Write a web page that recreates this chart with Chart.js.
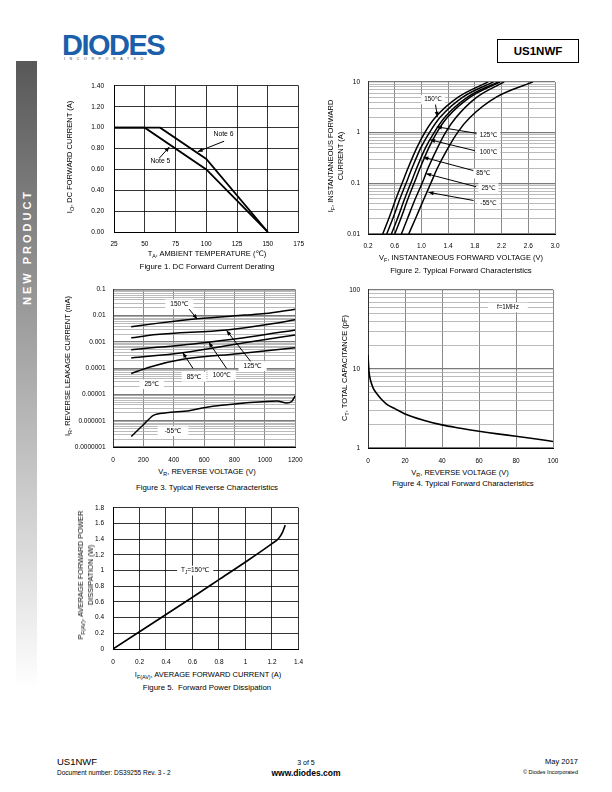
<!DOCTYPE html>
<html>
<head>
<meta charset="utf-8">
<script src="https://cdn.jsdelivr.net/npm/chart.js@4.4.1/dist/chart.umd.min.js"></script>
<style>
  html, body { margin: 0; padding: 0; background: #fff; }
  body { width: 612px; height: 792px; position: relative; overflow: hidden;
         font-family: "Liberation Sans", Arial, "DejaVu Sans", sans-serif; color: #000; }
  .abs { position: absolute; white-space: nowrap; }
  canvas.fig { position: absolute; }
  .t { position: absolute; white-space: nowrap; transform: translate(-50%, -50%); font-size: 7.5px; line-height: 1; }
  .ty { position: absolute; white-space: nowrap; transform: translate(-50%, -50%) rotate(-90deg);
        font-size: 7.5px; text-align: center; line-height: 10px; }
  .cap { font-size: 7.8px; }
  sub { font-size: 0.72em; vertical-align: -0.3em; line-height: 0; }
</style>
</head>
<body>

<!-- page furniture -->
<div class="abs" style="left:16px;top:61px;width:21px;height:713px;background:linear-gradient(#585858, #ffffff 88%);"></div>
<div class="ty" style="left:26.5px;top:247px;color:#fff;font-weight:bold;font-size:11px;letter-spacing:3px;line-height:1;">NEW PRODUCT</div>

<div class="abs" style="left:62px;top:31px;font-size:29px;font-weight:bold;color:#1b5faa;letter-spacing:-1.5px;line-height:1;">DIODES</div>
<div class="abs" style="left:160px;top:51px;width:3px;height:3px;border-radius:2px;background:#1b5faa;"></div>
<div class="abs" style="left:64px;top:57px;font-size:3.6px;letter-spacing:4.6px;color:#333;">INCORPORATED</div>

<div class="abs" style="left:497px;top:39px;width:80px;height:22px;border:1px solid #000;font-weight:bold;font-size:11.5px;line-height:22px;text-align:center;">US1NWF</div>

<div class="abs" style="left:57px;top:757px;font-size:9.5px;line-height:1;">US1NWF</div>
<div class="abs" style="left:57px;top:770px;font-size:6.5px;line-height:1;">Document number: DS39255 Rev. 3 - 2</div>
<div class="t" style="left:306px;top:762px;font-size:7px;">3 of 5</div>
<div class="t" style="left:306px;top:772.5px;font-size:8.5px;font-weight:bold;">www.diodes.com</div>
<div class="abs" style="right:34px;top:758px;font-size:7.5px;line-height:1;">May 2017</div>
<div class="abs" style="right:34px;top:770px;font-size:5.5px;line-height:1;">© Diodes Incorporated</div>

<!-- chart canvases -->
<canvas class="fig" id="fig1"></canvas>
<canvas class="fig" id="fig2"></canvas>
<canvas class="fig" id="fig3"></canvas>
<canvas class="fig" id="fig4"></canvas>
<canvas class="fig" id="fig5"></canvas>

<!-- axis titles and captions -->
<div class="ty" style="left:70px;top:157px;">I<sub>O</sub>, DC FORWARD CURRENT (A)</div>
<div class="t" style="left:207px;top:254px;">T<sub>A</sub>, AMBIENT TEMPERATURE (℃)</div>
<div class="t cap" style="left:207px;top:267px;">Figure 1. DC Forward Current Derating</div>

<div class="ty" style="left:336px;top:156px;">I<sub>F</sub>, INSTANTANEOUS FORWARD<br>CURRENT (A)</div>
<div class="t" style="left:461px;top:258px;">V<sub>F</sub>, INSTANTANEOUS FORWARD VOLTAGE (V)</div>
<div class="t cap" style="left:461px;top:271px;">Figure 2. Typical Forward Characteristics</div>

<div class="ty" style="left:68px;top:366px;">I<sub>R</sub>, REVERSE LEAKAGE CURRENT (mA)</div>
<div class="t" style="left:207px;top:472px;">V<sub>R</sub>, REVERSE VOLTAGE (V)</div>
<div class="t cap" style="left:207px;top:488px;">Figure 3. Typical Reverse Characteristics</div>

<div class="ty" style="left:345px;top:368px;">C<sub>T</sub>, TOTAL CAPACITANCE (pF)</div>
<div class="t" style="left:460px;top:473px;">V<sub>R</sub>, REVERSE VOLTAGE (V)</div>
<div class="t cap" style="left:463px;top:484px;">Figure 4. Typical Forward Characteristics</div>

<div class="ty" style="left:86px;top:575px;">P<sub>F(AV)</sub>, AVERAGE FORWARD POWER<br>DISSIPATION (W)</div>
<div class="t" style="left:208px;top:675px;">I<sub>F(AV)</sub>, AVERAGE FORWARD CURRENT (A)</div>
<div class="t cap" style="left:207px;top:688px;">Figure 5.&nbsp; Forward Power Dissipation</div>

<script>
// ---- Figure 1: DC forward current derating
const fig1Temp5 = [25, 50, 100, 150];
const fig1Curr5 = [1.0, 1.0, 0.6, 0.0];
const fig1Temp6 = [25, 62.5, 100, 150];
const fig1Curr6 = [1.0, 1.0, 0.7, 0.0];
const fig1XTicks = [25, 50, 75, 100, 125, 150, 175];
const fig1YTicks = [0, 0.2, 0.4, 0.6, 0.8, 1.0, 1.2, 1.4];

// ---- Figure 2: typical forward characteristics (current vs voltage)
const fig2Current = [0.01, 0.02, 0.05, 0.1, 0.2, 0.5, 1, 2, 5, 10];
const fig2V150 = [0.42, 0.51, 0.62, 0.71, 0.80, 0.93, 1.05, 1.21, 1.55, 2.00];
const fig2V125 = [0.48, 0.57, 0.68, 0.77, 0.86, 0.99, 1.12, 1.28, 1.62, 2.08];
const fig2V100 = [0.55, 0.64, 0.75, 0.84, 0.93, 1.06, 1.19, 1.35, 1.69, 2.15];
const fig2V85  = [0.60, 0.69, 0.80, 0.89, 0.98, 1.11, 1.23, 1.39, 1.73, 2.18];
const fig2V25  = [0.70, 0.79, 0.91, 1.01, 1.10, 1.24, 1.36, 1.52, 1.83, 2.24];
const fig2Vm55 = [0.81, 0.91, 1.04, 1.14, 1.24, 1.40, 1.54, 1.73, 2.12, 2.67];
const fig2XTicks = [0.2, 0.6, 1.0, 1.4, 1.8, 2.2, 2.6, 3.0];
const fig2YDecades = [0.01, 0.1, 1, 10];

// ---- Figure 3: typical reverse characteristics
const fig3V150 = [120, 300, 555, 866, 1000, 1200];
const fig3I150 = [0.0038, 0.0052, 0.0076, 0.0105, 0.012, 0.0177];
const fig3V125 = [120, 287, 748, 1037, 1200];
const fig3I125 = [0.00143, 0.0019, 0.00286, 0.00482, 0.007];
const fig3V100 = [120, 630, 930, 1200];
const fig3I100 = [0.0005, 0.00098, 0.00164, 0.00286];
const fig3V85  = [120, 459, 866, 1200];
const fig3I85  = [0.000245, 0.00039, 0.00093, 0.00185];
const fig3V25  = [120, 244, 459, 823, 1200];
const fig3I25  = [0.000063, 0.000112, 0.000218, 0.000358, 0.0006];
const fig3Vm55 = [120, 202, 266, 352, 501, 609, 866, 1080, 1144, 1176, 1200];
const fig3Im55 = [2.5e-7, 7.2e-7, 1.6e-6, 2.0e-6, 2.4e-6, 3.2e-6, 4.7e-6, 5.7e-6, 4.7e-6, 5.4e-6, 8.9e-6];
const fig3XTicks = [0, 200, 400, 600, 800, 1000, 1200];
const fig3YDecades = [1e-7, 1e-6, 1e-5, 1e-4, 1e-3, 1e-2, 1e-1];

// ---- Figure 4: total capacitance
const fig4Voltage = [0, 0.5, 1, 2, 3, 5, 7, 10, 15, 20, 30, 40, 50, 60, 70, 80, 90, 100];
const fig4Cap = [15, 9.5, 7.8, 6.4, 5.6, 4.8, 4.2, 3.6, 3.1, 2.7, 2.25, 1.96, 1.78, 1.63, 1.51, 1.41, 1.31, 1.21];
const fig4XTicks = [0, 20, 40, 60, 80, 100];
const fig4YDecades = [1, 10, 100];

// ---- Figure 5: forward power dissipation
const fig5Current = [0, 0.2, 0.4, 0.6, 0.8, 1.0, 1.2, 1.25, 1.28, 1.3];
const fig5Power = [0, 0.22, 0.44, 0.66, 0.885, 1.11, 1.345, 1.41, 1.49, 1.58];
const fig5XTicks = [0, 0.2, 0.4, 0.6, 0.8, 1.0, 1.2, 1.4];
const fig5YTicks = [0, 0.2, 0.4, 0.6, 0.8, 1.0, 1.2, 1.4, 1.6, 1.8];

const FONT = '"Liberation Sans", Arial, "DejaVu Sans", sans-serif';
Chart.defaults.font.family = FONT;
Chart.defaults.font.size = 6.5;
Chart.defaults.color = '#000';

const pts = (xs, ys) => xs.map((x, i) => ({ x, y: ys[i] }));
const isDecade = v => Math.abs(Math.log10(v) - Math.round(Math.log10(v))) < 1e-6;

// 1..9 x 10^n between the listed decades
function logTicks(decades) {
  const out = [];
  for (let i = 0; i < decades.length - 1; i++) {
    for (let k = 1; k < 10; k++) out.push(+(decades[i] * k).toPrecision(3));
  }
  out.push(decades[decades.length - 1]);
  return out;
}

function line(data, width, straight) {
  return { data, showLine: true, pointRadius: 0, borderColor: '#000', borderWidth: width || 1.5,
           tension: 0, cubicInterpolationMode: straight ? 'default' : 'monotone', fill: false };
}

function drawArrow(ctx, x1, y1, x2, y2) {
  ctx.beginPath(); ctx.moveTo(x1, y1); ctx.lineTo(x2, y2); ctx.stroke();
  const a = Math.atan2(y2 - y1, x2 - x1), L = 5, W = 2;
  ctx.beginPath();
  ctx.moveTo(x2, y2);
  ctx.lineTo(x2 - L * Math.cos(a) + W * Math.sin(a), y2 - L * Math.sin(a) - W * Math.cos(a));
  ctx.lineTo(x2 - L * Math.cos(a) - W * Math.sin(a), y2 - L * Math.sin(a) + W * Math.cos(a));
  ctx.closePath(); ctx.fill();
}

// labels and arrows, placed in data units
function notes(items, size) {
  return {
    id: 'notes',
    afterDatasetsDraw(chart) {
      const { ctx, scales: { x, y } } = chart;
      ctx.save();
      ctx.strokeStyle = '#000'; ctx.fillStyle = '#000'; ctx.lineWidth = 1;
      for (const it of items) {
        if (!it.arrow) continue;
        const [a, b, c, d] = it.arrow;
        drawArrow(ctx, x.getPixelForValue(a), y.getPixelForValue(b), x.getPixelForValue(c), y.getPixelForValue(d));
      }
      ctx.textBaseline = 'middle';
      for (const it of items) {
        if (!it.text) continue;
        const parts = it.text;
        let w = 0;
        const sizes = parts.map(p => {
          const s = p.sub ? size * 0.7 : size;
          ctx.font = s + 'px ' + FONT;
          const m = ctx.measureText(p.t).width;
          w += m;
          return { s, m };
        });
        const cx = x.getPixelForValue(it.x), cy = y.getPixelForValue(it.y);
        if (it.box) {
          ctx.fillStyle = '#fff';
          ctx.fillRect(cx - w / 2 - it.box, cy - size * 0.75, w + 2 * it.box, size * 1.5);
        }
        ctx.fillStyle = '#000';
        let px = cx - w / 2;
        parts.forEach((p, i) => {
          ctx.font = sizes[i].s + 'px ' + FONT;
          ctx.fillText(p.t, px, cy + (p.sub ? size * 0.3 : 0));
          px += sizes[i].m;
        });
      }
      ctx.restore();
    }
  };
}

// places the canvas (box) and forces the plot area (plot), both in page pixels
function makeChart(id, box, plot, xScale, yScale, datasets, plugins) {
  const cv = document.getElementById(id);
  cv.width = box.r - box.l; cv.height = box.b - box.t;
  cv.style.left = box.l + 'px'; cv.style.top = box.t + 'px';
  const yW = plot.l - box.l, xH = box.b - plot.b;
  xScale.afterFit = s => { s.height = xH; };
  yScale.afterFit = s => { s.width = yW; };
  return new Chart(cv, {
    type: 'scatter',
    data: { datasets },
    options: {
      responsive: false, animation: false, events: [],
      layout: { padding: { left: 0, top: plot.t - box.t, right: box.r - plot.r, bottom: 0 } },
      plugins: { legend: { display: false }, tooltip: { enabled: false } },
      scales: { x: xScale, y: yScale }
    },
    plugins: plugins || []
  });
}

function linAxis(min, max, ticks, fmt, pad, grid) {
  return {
    type: 'linear', min, max,
    afterBuildTicks: s => { s.ticks = ticks.map(v => ({ value: v })); },
    ticks: { autoSkip: false, maxRotation: 0, padding: pad, callback: fmt },
    grid: Object.assign({ drawTicks: false }, grid),
    border: { color: '#000', width: 1 }
  };
}

function logAxis(decades, fmt, pad) {
  const vals = logTicks(decades);
  return {
    type: 'logarithmic', min: decades[0], max: decades[decades.length - 1],
    afterBuildTicks: s => { s.ticks = vals.map(v => ({ value: v })); },
    ticks: { autoSkip: false, maxRotation: 0, padding: pad,
             callback: v => isDecade(v) ? fmt(v) : '' },
    grid: {
      drawTicks: false,
      color: c => (c.tick && isDecade(c.tick.value)) ? '#7a7a7a' : '#aaaaaa',
      lineWidth: c => (c.tick && isDecade(c.tick.value)) ? 1.3 : 0.8
    },
    border: { color: '#333', width: 1 }
  };
}

const decFmt = v => {
  const e = Math.round(Math.log10(v));
  return e >= 0 ? String(Math.round(v)) : v.toFixed(-e);
};
const grayGrid = { color: '#8a8a8a', lineWidth: 1 };
const blackGrid = { color: '#000', lineWidth: 0.8 };

// Figure 1
makeChart('fig1', { l: 60, t: 72, r: 312, b: 252 }, { l: 114, t: 81, r: 301, b: 232 },
  linAxis(25, 175, fig1XTicks, v => String(v), 8, blackGrid),
  linAxis(0, 1.4, fig1YTicks, v => v.toFixed(2), 10, blackGrid),
  [line(pts(fig1Temp5, fig1Curr5), 1.8, true), line(pts(fig1Temp6, fig1Curr6), 1.8, true)],
  [notes([
    { text: [{ t: 'Note 6' }], x: 114, y: 0.935 },
    { text: [{ t: 'Note 5' }], x: 62.7, y: 0.675 },
    { arrow: [114.5, 0.87, 93, 0.77] },
    { arrow: [62, 0.71, 70, 0.815] }
  ], 6.8)]);

// Figure 2
makeChart('fig2', { l: 320, t: 70, r: 572, b: 252 }, { l: 368, t: 79, r: 555, b: 234 },
  linAxis(0.2, 3.0, fig2XTicks, v => v.toFixed(1), 8, grayGrid),
  logAxis(fig2YDecades, decFmt, 8),
  [fig2V150, fig2V125, fig2V100, fig2V85, fig2V25, fig2Vm55].map(vs => line(pts(vs, fig2Current), 1.5)),
  [notes([
    { arrow: [1.21, 3.6, 1.24, 2.05] },
    { arrow: [1.83, 0.965, 1.23, 1.30] },
    { arrow: [1.80, 0.44, 1.13, 0.72] },
    { arrow: [1.80, 0.175, 1.03, 0.327] },
    { arrow: [1.82, 0.0855, 1.07, 0.155] },
    { arrow: [1.78, 0.0458, 1.106, 0.0664] },
    { text: [{ t: '150℃' }], x: 1.172, y: 4.48, box: 3 },
    { text: [{ t: '125℃' }], x: 2.003, y: 0.871, box: 3 },
    { text: [{ t: '100℃' }], x: 2.003, y: 0.413, box: 3 },
    { text: [{ t: '85℃' }], x: 1.928, y: 0.155, box: 3 },
    { text: [{ t: '25℃' }], x: 2.003, y: 0.0807, box: 3 },
    { text: [{ t: '-55℃' }], x: 2.003, y: 0.0395, box: 3 }
  ], 6.3)]);

// Figure 3
makeChart('fig3', { l: 60, t: 278, r: 312, b: 466 }, { l: 113, t: 287, r: 300, b: 447 },
  linAxis(0, 1200, fig3XTicks, v => String(v), 9.5, grayGrid),
  logAxis(fig3YDecades, decFmt, 7.5),
  [line(pts(fig3V150, fig3I150)), line(pts(fig3V125, fig3I125)), line(pts(fig3V100, fig3I100)),
   line(pts(fig3V85, fig3I85)), line(pts(fig3V25, fig3I25)), line(pts(fig3Vm55, fig3Im55))],
  [notes([
    { text: [{ t: '150℃' }], x: 437, y: 0.0272, box: 5 },
    { text: [{ t: '125℃' }], x: 919, y: 0.000119, box: 5 },
    { text: [{ t: '100℃' }], x: 716, y: 0.0000546, box: 5 },
    { text: [{ t: '85℃' }], x: 533, y: 0.0000471, box: 5 },
    { text: [{ t: '25℃' }], x: 255, y: 0.0000244, box: 5 },
    { text: [{ t: '-55℃' }], x: 395, y: 0.0000004, box: 7 },
    { arrow: [501, 0.0177, 555, 0.00743] },
    { arrow: [909, 0.000173, 748, 0.0027] },
    { arrow: [748, 0.0000975, 630, 0.00098] },
    { arrow: [527, 0.0000975, 459, 0.00039] }
  ], 6.5)]);

// Figure 4
makeChart('fig4', { l: 320, t: 278, r: 572, b: 466 }, { l: 368, t: 288, r: 553, b: 448 },
  linAxis(0, 100, fig4XTicks, v => String(v), 9, grayGrid),
  logAxis(fig4YDecades, decFmt, 8),
  [line(pts(fig4Voltage, fig4Cap), 1.6)],
  [notes([
    { text: [{ t: 'f=1MHz' }], x: 75.6, y: 60, box: 9 }
  ], 6.3)]);

// Figure 5
makeChart('fig5', { l: 60, t: 495, r: 312, b: 668 }, { l: 113, t: 504, r: 302, b: 649 },
  linAxis(0, 1.4, fig5XTicks, v => String(+v.toFixed(1)), 9, blackGrid),
  linAxis(0, 1.8, fig5YTicks, v => String(+v.toFixed(1)), 9, blackGrid),
  [line(pts(fig5Current, fig5Power), 1.6)],
  [notes([
    { text: [{ t: 'T' }, { t: 'J', sub: true }, { t: '=150℃' }], x: 0.62, y: 1.0, box: 4 }
  ], 6.5)]);
</script>
</body>
</html>
